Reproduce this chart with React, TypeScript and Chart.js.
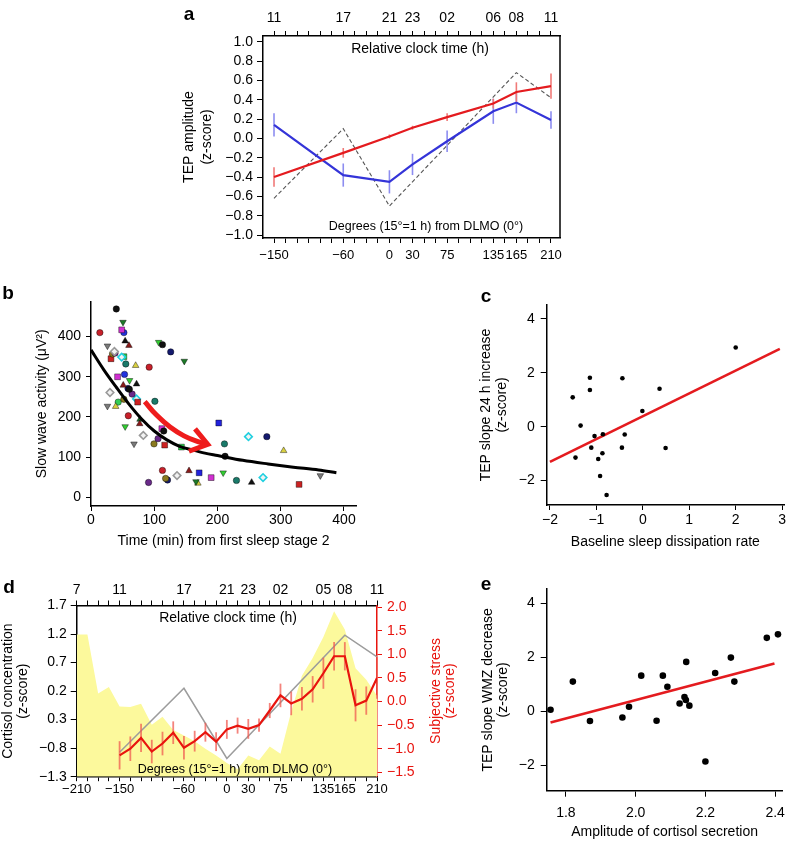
import React, { useEffect, useRef } from 'react';
import { Chart, registerables } from 'chart.js';

Chart.register(...registerables);

const FONT = "'Liberation Sans', Arial, Helvetica, sans-serif";
Chart.defaults.font.family = FONT;
Chart.defaults.color = '#000';

const RED = '#e41b1f';
const BLUE = '#3434d8';
const YELLOW = '#fcf99c';

// ---------------- Panel a ----------------
const degA = [-150, -60, 0, 30, 75, 135, 165, 210];
const tepRedA = [-0.40, -0.15, 0.02, 0.11, 0.22, 0.36, 0.48, 0.54];
const tepRedErrA = [0.10, 0.05, 0.02, 0.02, 0.04, 0.05, 0.10, 0.13];
const tepBlueA = [0.14, -0.38, -0.45, -0.27, -0.03, 0.28, 0.37, 0.19];
const tepBlueErrA = [0.12, 0.12, 0.12, 0.11, 0.11, 0.13, 0.11, 0.09];
const grayDegA = [-150, -60, 0, 165, 210];
const grayA = [-0.62, 0.10, -0.70, 0.68, 0.42];
const minorDegA = [-150, -135, -120, -105, -90, -75, -60, -45, -30, -15, 0, 15, 30, 45, 60, 75, 90, 105, 120, 135, 150, 165, 180, 195, 210];
const degLabA = [-150, -60, 0, 30, 75, 135, 165, 210];
const clockDegA = [-150, -60, 0, 30, 75, 135, 165, 210];
const clockLabA = ['11', '17', '21', '23', '02', '06', '08', '11'];
const yTicksA = [-1.0, -0.8, -0.6, -0.4, -0.2, 0.0, 0.2, 0.4, 0.6, 0.8, 1.0];

// ---------------- Panel b ----------------
const swaTime = [40, 14, 50.6, 48.5, 52, 26, 37, 38, 34, 31.6, 54, 60, 107, 113, 126, 147.5, 48.5, 52, 55, 70.6, 92, 42, 53, 61, 72, 51, 58.5, 60.6, 65, 72, 73.8, 30, 26, 39, 43, 52, 59, 101, 77.5, 77, 54, 82.7, 68, 99.6, 106, 112, 115, 116.5, 143, 202, 211, 212, 249, 278, 304.6, 113, 91, 118, 121, 136, 155, 171, 166, 169, 190, 209, 230, 254, 272, 329, 362.6];
const swaValue = [469, 410, 436, 417, 410, 377, 363, 359, 357, 345, 389, 378, 386, 380, 362, 339, 349, 350, 332, 328, 324, 300, 306, 291, 282, 279, 271, 269, 257, 245, 237, 261, 227, 226, 237, 244, 203, 239, 194, 183, 176, 154, 133, 133, 146, 171, 165, 130, 125, 185, 133, 102, 151, 151, 116, 67, 37, 47, 43, 54, 66, 61, 39, 35, 49, 61, 42, 37, 49, 32, 54];
const swaSubject = [0, 1, 2, 3, 4, 5, 6, 7, 8, 9, 10, 11, 12, 0, 13, 2, 14, 15, 16, 17, 1, 3, 4, 12, 10, 11, 13, 0, 7, 14, 9, 6, 5, 17, 18, 8, 1, 16, 19, 11, 12, 6, 5, 8, 7, 3, 0, 9, 15, 20, 16, 0, 14, 13, 17, 1, 7, 8, 13, 6, 11, 20, 2, 17, 3, 12, 16, 10, 14, 9, 5];
const curveT = [0, 20, 40, 60, 80, 100, 120, 140, 160, 180, 200, 240, 280, 320, 360, 388];
const curveV = [367, 318, 274, 232, 195, 165, 143, 127, 118, 110, 104, 92, 83, 75, 68, 61];
const arrowT = [85, 104, 125, 147, 168, 184.5];
const arrowV = [238, 204, 175, 153, 139, 132];
const xTicksB = [0, 100, 200, 300, 400];
const yTicksB = [0, 100, 200, 300, 400];

const SUBJECT_STYLE = [
  { shape: 'circle', color: '#111111' },
  { shape: 'circle', color: '#c8202a' },
  { shape: 'down', color: '#1d7a28' },
  { shape: 'rect', color: '#d030d0' },
  { shape: 'circle', color: '#2233dd' },
  { shape: 'down', color: '#7a7a7a' },
  { shape: 'diamond', color: '#9a9a9a' },
  { shape: 'circle', color: '#6a2a8a' },
  { shape: 'circle', color: '#8a7a20' },
  { shape: 'rect', color: '#cc2222' },
  { shape: 'triangle', color: '#111111' },
  { shape: 'triangle', color: '#8a1a1a' },
  { shape: 'down', color: '#33cc33' },
  { shape: 'circle', color: '#141a6e' },
  { shape: 'diamond', color: '#22d0e0' },
  { shape: 'rect', color: '#22cc44' },
  { shape: 'circle', color: '#1a7a6a' },
  { shape: 'triangle', color: '#d8d040' },
  { shape: 'circle', color: '#33cc55' },
  { shape: 'triangle', color: '#1a6a2a' },
  { shape: 'rect', color: '#2222dd' },
];

// ---------------- Panel c ----------------
const baselineRate = [-1.51, -1.14, -1.14, -1.34, -1.45, -1.04, -1.11, -0.87, -0.96, -0.92, -0.78, -0.86, -0.44, -0.39, -0.45, -0.01, 0.36, 0.49, 2.0];
const tepSlope24 = [1.09, 1.82, 1.36, 0.04, -1.15, -0.35, -0.78, -0.99, -1.20, -1.83, -2.54, -0.28, 1.80, -0.29, -0.78, 0.58, 1.41, -0.79, 2.94];
const fitCx = [-2.0, 2.95];
const fitCy = [-1.31, 2.89];
const xTicksC = [-2, -1, 0, 1, 2, 3];
const yTicksC = [-2, 0, 2, 4];

// ---------------- Panel d ----------------
const minorDegD = [-210, -195, -180, -165, -150, -135, -120, -105, -90, -75, -60, -45, -30, -15, 0, 15, 30, 45, 60, 75, 90, 105, 120, 135, 150, 165, 180, 195, 210];
const cortisolArea = [1.19, 1.19, 0.16, 0.27, -0.07, -0.08, -0.02, -0.39, -0.25, -0.48, -0.58, -0.68, -0.81, -0.93, -1.06, -1.17, -0.93, -1.01, -0.77, -0.90, -0.16, 0.47, 0.78, 1.15, 1.60, 1.28, 0.60, 0.40, 0.12];
const stressDeg = [-150, -135, -120, -105, -90, -75, -60, -45, -30, -15, 0, 15, 30, 45, 60, 75, 90, 105, 120, 135, 150, 165, 180, 195, 210];
const stressD = [-1.14, -1.0, -0.77, -1.06, -0.89, -0.66, -0.98, -0.84, -0.65, -0.85, -0.59, -0.51, -0.58, -0.50, -0.19, 0.13, -0.04, 0.06, 0.26, 0.60, 0.96, 0.96, -0.08, 0.02, 0.50];
const stressErrD = [0.30, 0.26, 0.30, 0.25, 0.25, 0.24, 0.25, 0.22, 0.20, 0.20, 0.20, 0.17, 0.21, 0.14, 0.16, 0.25, 0.25, 0.25, 0.28, 0.33, 0.30, 0.30, 0.34, 0.30, 0.44];
const grayDegD = [-150, -60, 0, 165, 210];
const grayD = [-0.87, 0.25, -0.98, 1.18, 0.80];
const degLabD = [-210, -150, -60, 0, 30, 75, 135, 165, 210];
const clockDegD = [-210, -150, -60, 0, 30, 75, 135, 165, 210];
const clockLabD = ['7', '11', '17', '21', '23', '02', '05', '08', '11'];
const yTicksD = [-1.3, -0.8, -0.3, 0.2, 0.7, 1.2, 1.7];
const yLabelsD = ['\u22121.3', '\u22120.8', '0.3', '0.2', '0.7', '1.2', '1.7'];
const y2TicksD = [-1.5, -1.0, -0.5, 0.0, 0.5, 1.0, 1.5, 2.0];

// ---------------- Panel e ----------------
const cortisolAmp = [1.756, 1.820, 1.869, 1.962, 1.981, 2.016, 2.060, 2.078, 2.091, 2.126, 2.140, 2.144, 2.145, 2.154, 2.200, 2.228, 2.273, 2.283, 2.376, 2.408];
const tepSlopeWmz = [0.05, 1.09, -0.37, -0.24, 0.16, 1.31, -0.36, 1.31, 0.90, 0.28, 0.52, 0.41, 1.82, 0.20, -1.87, 1.41, 1.98, 1.09, 2.71, 2.84];
const fitEx = [1.756, 2.398];
const fitEy = [-0.42, 1.76];
const xTicksE = [1.8, 2.0, 2.2, 2.4];
const yTicksE = [-2, 0, 2, 4];

// ---------------- helpers ----------------
const fmt = (v: number, d: number) => (v < -1e-9 ? '\u2212' : '') + Math.abs(v).toFixed(d);
const pts = (xs: number[], ys: number[]) => xs.map((x, i) => ({ x, y: ys[i] }));

function mkAxis(o: any) {
  const color = o.color || '#000';
  return {
    type: 'linear',
    position: o.position,
    min: o.min,
    max: o.max,
    z: o.z || 0,
    afterBuildTicks: (s: any) => {
      s.ticks = o.values.map((v: number) => ({ value: v }));
    },
    afterFit: (s: any) => {
      if (s.isHorizontal()) {
        s.height = o.size;
        s.paddingLeft = 0;
        s.paddingRight = 0;
      } else {
        s.width = o.size;
        s.paddingTop = 0;
        s.paddingBottom = 0;
      }
    },
    ticks: {
      autoSkip: false,
      maxRotation: 0,
      minRotation: 0,
      padding: o.pad ?? 4,
      color,
      font: { family: FONT, size: o.fontSize ?? 14 },
      callback: (v: number) => o.label(v),
    },
    grid: {
      display: true,
      drawOnChartArea: false,
      drawTicks: true,
      tickLength: o.tl ?? 5,
      color,
      lineWidth: 1,
    },
    border: { display: true, color, width: 1.5 },
    title: o.title
      ? {
          display: true,
          color,
          text: o.title.text,
          font: { family: FONT, size: 14, lineHeight: o.title.lh / 14 },
          padding: o.title.padding,
        }
      : { display: false },
  };
}

const errorBarPlugin = {
  id: 'errorBars',
  beforeDatasetDraw(chart: any, args: any) {
    const ds = chart.data.datasets[args.index];
    if (!ds.errors) return;
    const meta = args.meta;
    const xs = chart.scales[meta.xAxisID];
    const ys = chart.scales[meta.yAxisID];
    const ctx = chart.ctx;
    ctx.save();
    ctx.strokeStyle = ds.errorColor;
    ctx.lineWidth = ds.errorWidth;
    ds.data.forEach((p: any, i: number) => {
      const e = ds.errors[i];
      const x = xs.getPixelForValue(p.x);
      ctx.beginPath();
      ctx.moveTo(x, ys.getPixelForValue(p.y - e));
      ctx.lineTo(x, ys.getPixelForValue(p.y + e));
      ctx.stroke();
    });
    ctx.restore();
  },
};

const rightFramePlugin = {
  id: 'rightFrame',
  afterDraw(chart: any) {
    const { ctx, chartArea } = chart;
    ctx.save();
    ctx.strokeStyle = '#000';
    ctx.lineWidth = 1.5;
    ctx.beginPath();
    ctx.moveTo(chartArea.right, chartArea.top);
    ctx.lineTo(chartArea.right, chartArea.bottom);
    ctx.stroke();
    ctx.restore();
  },
};

const arrowHeadPlugin = {
  id: 'arrowHead',
  afterDatasetsDraw(chart: any) {
    const ctx = chart.ctx;
    chart.data.datasets.forEach((ds: any, i: number) => {
      if (!ds.arrowHead) return;
      const els = chart.getDatasetMeta(i).data;
      const n = els.length;
      const tip = els[n - 1];
      const prev = els[n - 2];
      const ang = Math.atan2(tip.y - prev.y, tip.x - prev.x);
      const L = 20;
      const a = 0.62;
      ctx.save();
      ctx.strokeStyle = ds.borderColor;
      ctx.lineWidth = 5;
      ctx.lineJoin = 'miter';
      ctx.lineCap = 'butt';
      ctx.beginPath();
      ctx.moveTo(tip.x - L * Math.cos(ang - a), tip.y - L * Math.sin(ang - a));
      ctx.lineTo(tip.x, tip.y);
      ctx.lineTo(tip.x - L * Math.cos(ang + a), tip.y - L * Math.sin(ang + a));
      ctx.stroke();
      ctx.restore();
    });
  },
};

const baseOpts = (padding: any) => ({
  responsive: false,
  maintainAspectRatio: false,
  animation: false,
  events: [],
  layout: { padding },
  plugins: { legend: { display: false }, tooltip: { enabled: false } },
});

const pick = (set: number[], labels?: string[]) => (v: number) => {
  const i = set.indexOf(v);
  if (i < 0) return '';
  return labels ? labels[i] : fmt(v, 0);
};

function makeA(canvas: HTMLCanvasElement) {
  return new Chart(canvas, {
    type: 'scatter',
    data: {
      datasets: [
        {
          data: pts(degA, tepRedA), showLine: true, borderColor: RED, borderWidth: 2.2, pointRadius: 0, order: 1,
          errors: tepRedErrA, errorColor: '#f07a78', errorWidth: 1.6,
        } as any,
        {
          data: pts(degA, tepBlueA), showLine: true, borderColor: BLUE, borderWidth: 2.2, pointRadius: 0, order: 2,
          errors: tepBlueErrA, errorColor: '#8d8df0', errorWidth: 1.6,
        },
        {
          data: pts(grayDegA, grayA), showLine: true, borderColor: '#555', borderWidth: 1.1, borderDash: [4, 2.5], pointRadius: 0, order: 3,
        },
      ],
    },
    options: {
      ...baseOpts({ left: 0, right: 20, top: 0, bottom: 0 }),
      scales: {
        x: mkAxis({ position: 'bottom', min: -164.7, max: 221.7, size: 42, values: minorDegA, label: pick(degLabA), tl: 5, pad: 4.6, fontSize: 13 }),
        x2: mkAxis({ position: 'top', min: -164.7, max: 221.7, size: 36, values: minorDegA, label: pick(clockDegA, clockLabA), tl: 5, pad: 4.6 }),
        y: mkAxis({
          position: 'left', min: -1.031, max: 1.059, size: 82.7, values: yTicksA, label: (v: number) => fmt(v, 1), tl: 5.7, pad: 4,
          title: { text: ['TEP amplitude', '(z-score)'], lh: 18, padding: { top: 0, bottom: 0 } },
        }),
      },
    } as any,
    plugins: [errorBarPlugin, rightFramePlugin],
  });
}

function makeB(canvas: HTMLCanvasElement) {
  const scatterSets = SUBJECT_STYLE.map((st, k) => {
    const data = swaTime
      .map((t, i) => ({ x: t, y: swaValue[i], s: swaSubject[i] }))
      .filter((p) => p.s === k);
    const isDiamond = st.shape === 'diamond';
    return {
      data,
      pointStyle: st.shape === 'down' ? 'triangle' : isDiamond ? 'rectRot' : st.shape,
      pointRotation: st.shape === 'down' ? 180 : 0,
      pointRadius: st.shape === 'rect' ? 4.1 : st.shape === 'circle' ? 3.2 : 3.8,
      pointBackgroundColor: isDiamond ? '#f2f2f2' : st.color,
      pointBorderColor: isDiamond ? st.color : 'rgba(0,0,0,0.6)',
      pointBorderWidth: isDiamond ? 1.6 : 0.7,
      order: 5,
    };
  });
  return new Chart(canvas, {
    type: 'scatter',
    data: {
      datasets: [
        {
          data: pts(arrowT, arrowV), showLine: true, borderColor: '#ee1c1c', borderWidth: 5, pointRadius: 0, tension: 0.4,
          arrowHead: true, order: 0,
        } as any,
        {
          data: pts(curveT, curveV), showLine: true, borderColor: '#000', borderWidth: 3, pointRadius: 0,
          cubicInterpolationMode: 'monotone', order: 1,
        },
        ...scatterSets,
      ],
    },
    options: {
      ...baseOpts({ left: 0, right: 24, top: 11.7, bottom: 0 }),
      scales: {
        x: mkAxis({
          position: 'bottom', min: 0, max: 419, size: 54, values: xTicksB, label: (v: number) => fmt(v, 0), tl: 5, pad: 1,
          title: { text: 'Time (min) from first sleep stage 2', lh: 18, padding: { top: 0, bottom: 10.3 } },
        }),
        y: mkAxis({
          position: 'left', min: -21.7, max: 487, size: 91, values: yTicksB, label: (v: number) => fmt(v, 0), tl: 5, pad: 5,
          title: { text: 'Slow wave activity (\u03bcV\u00b2)', lh: 18, padding: { top: 32.7, bottom: 0 } },
        }),
      },
    } as any,
    plugins: [arrowHeadPlugin],
  });
}

function makeC(canvas: HTMLCanvasElement) {
  return new Chart(canvas, {
    type: 'scatter',
    data: {
      datasets: [
        { data: pts(baselineRate, tepSlope24), pointRadius: 2.3, pointBackgroundColor: '#000', pointBorderWidth: 0, order: 1 },
        { data: pts(fitCx, fitCy), showLine: true, borderColor: RED, borderWidth: 2.6, pointRadius: 0, order: 2 },
      ],
    },
    options: {
      ...baseOpts({ left: 0, right: 3, top: 15, bottom: 0 }),
      scales: {
        x: mkAxis({
          position: 'bottom', min: -2.07, max: 3.04, size: 55, values: xTicksC, label: (v: number) => fmt(v, 0), tl: 5, pad: 1.6,
          title: { text: 'Baseline sleep dissipation rate', lh: 18, padding: { top: 0, bottom: 9.3 } },
        }),
        y: mkAxis({
          position: 'left', min: -2.91, max: 4.52, size: 76.7, values: yTicksC, label: (v: number) => fmt(v, 0), tl: 6, pad: 6,
          title: { text: ['TEP slope 24 h increase', '(z-score)'], lh: 16, padding: { top: 8.3, bottom: 0 } },
        }),
      },
    } as any,
  });
}

function makeD(canvas: HTMLCanvasElement) {
  return new Chart(canvas, {
    type: 'scatter',
    data: {
      datasets: [
        {
          data: pts(stressDeg, stressD), yAxisID: 'y2', showLine: true, borderColor: '#e8140e', borderWidth: 2.2, pointRadius: 0, order: 1,
          errors: stressErrD, errorColor: 'rgba(240,90,80,0.75)', errorWidth: 1.8,
        } as any,
        { data: pts(grayDegD, grayD), yAxisID: 'y', showLine: true, borderColor: '#9c9c9c', borderWidth: 1.5, pointRadius: 0, order: 2 },
        {
          data: pts(minorDegD, cortisolArea), yAxisID: 'y', showLine: true, borderWidth: 0, borderColor: 'rgba(0,0,0,0)',
          backgroundColor: YELLOW, fill: 'start', pointRadius: 0, order: 3,
        },
      ],
    },
    options: {
      ...baseOpts({ left: 0, right: 0, top: 0, bottom: 0 }),
      scales: {
        x: mkAxis({ position: 'bottom', min: -210, max: 210, size: 53.3, values: minorDegD, label: pick(degLabD), tl: 4.5, pad: 0.5, z: 1, fontSize: 13 }),
        x2: mkAxis({ position: 'top', min: -210, max: 210, size: 45.5, values: minorDegD, label: pick(clockDegD, clockLabD), tl: 5, pad: 1.6, z: 1 }),
        y: mkAxis({
          position: 'left', min: -1.3, max: 1.7, size: 76.7, values: yTicksD, label: (v: number) => yLabelsD[yTicksD.indexOf(v)] ?? '',
          tl: 6, pad: 4, z: 1,
          title: { text: ['Cortisol concentration', '(z-score)'], lh: 15, padding: { top: 0.3, bottom: 0 } },
        }),
        y2: mkAxis({
          position: 'right', min: -1.593, max: 2.036, size: 93, values: y2TicksD, label: (v: number) => fmt(v, 1), tl: 5, pad: 5,
          color: '#e8140e', z: 1,
        }),
      },
    } as any,
    plugins: [errorBarPlugin],
  });
}

function makeE(canvas: HTMLCanvasElement) {
  return new Chart(canvas, {
    type: 'scatter',
    data: {
      datasets: [
        { data: pts(cortisolAmp, tepSlopeWmz), pointRadius: 3.3, pointBackgroundColor: '#000', pointBorderWidth: 0, order: 1 },
        { data: pts(fitEx, fitEy), showLine: true, borderColor: RED, borderWidth: 2.6, pointRadius: 0, order: 2 },
      ],
    },
    options: {
      ...baseOpts({ left: 0, right: 5.5, top: 9, bottom: 0 }),
      scales: {
        x: mkAxis({
          position: 'bottom', min: 1.745, max: 2.421, size: 50.3, values: xTicksE, label: (v: number) => fmt(v, 1), tl: 6, pad: 8.2,
          title: { text: 'Amplitude of cortisol secretion', lh: 15, padding: { top: 0, bottom: 1.8 } },
        }),
        y: mkAxis({
          position: 'left', min: -2.95, max: 4.52, size: 76.7, values: yTicksE, label: (v: number) => fmt(v, 0), tl: 6, pad: 6,
          title: { text: ['TEP slope WMZ decrease', '(z-score)'], lh: 15, padding: { top: 10.3, bottom: 0 } },
        }),
      },
    } as any,
  });
}

const Txt = (p: { x: number; y: number; size?: number; bold?: boolean; color?: string; rotate?: boolean; children: any }) => (
  <div
    style={{
      position: 'absolute',
      left: p.x,
      top: p.y,
      transform: `translate(-50%, -50%)${p.rotate ? ' rotate(-90deg)' : ''}`,
      fontFamily: FONT,
      fontSize: p.size ?? 14,
      fontWeight: p.bold ? 'bold' : 'normal',
      color: p.color ?? '#000',
      whiteSpace: 'nowrap',
      lineHeight: 1,
    }}
  >
    {p.children}
  </div>
);

const PANELS = [
  { key: 'a', left: 180, top: 0, w: 400, h: 280, make: makeA },
  { key: 'b', left: 0, top: 290, w: 380, h: 270, make: makeB },
  { key: 'c', left: 470, top: 290, w: 318, h: 270, make: makeC },
  { key: 'd', left: 0, top: 560, w: 470, h: 270, make: makeD },
  { key: 'e', left: 470, top: 580, w: 318, h: 261, make: makeE },
];

export default function App() {
  const refs = useRef<(HTMLCanvasElement | null)[]>([]);
  useEffect(() => {
    const charts = PANELS.map((p, i) => p.make(refs.current[i] as HTMLCanvasElement));
    return () => charts.forEach((c) => c.destroy());
  }, []);
  return (
    <div style={{ position: 'absolute', left: 0, top: 0, width: 788, height: 841, background: '#fff', overflow: 'hidden' }}>
      {PANELS.map((p, i) => (
        <canvas
          key={p.key}
          ref={(el) => { refs.current[i] = el; }}
          width={p.w}
          height={p.h}
          style={{ position: 'absolute', left: p.left, top: p.top, width: p.w, height: p.h }}
        />
      ))}
      <Txt x={189} y={13} size={19} bold>a</Txt>
      <Txt x={8} y={292} size={19} bold>b</Txt>
      <Txt x={486} y={295} size={19} bold>c</Txt>
      <Txt x={9} y={586} size={19} bold>d</Txt>
      <Txt x={486} y={583} size={19} bold>e</Txt>
      <Txt x={420} y={48}>Relative clock time (h)</Txt>
      <Txt x={426} y={226} size={12.5}>Degrees (15°=1 h) from DLMO (0°)</Txt>
      <Txt x={228} y={617}>Relative clock time (h)</Txt>
      <Txt x={235} y={769} size={12.5}>Degrees (15°=1 h) from DLMO (0°)</Txt>
      <Txt x={435} y={691} color="#e8140e" rotate>Subjective stress</Txt>
      <Txt x={449} y={691} color="#e8140e" rotate>(z-score)</Txt>
    </div>
  );
}
